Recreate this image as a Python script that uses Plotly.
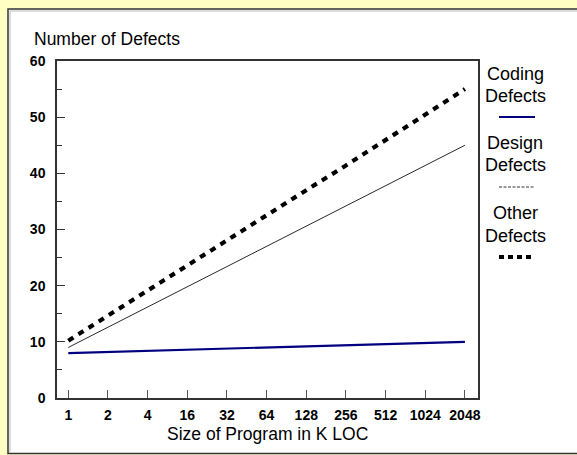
import plotly.graph_objects as go

sizes = ["1", "2", "4", "16", "32", "64", "128", "256", "512", "1024", "2048"]
coding_defects = [8.0, 8.2, 8.4, 8.6, 8.8, 9.0, 9.2, 9.4, 9.6, 9.8, 10.0]
design_defects = [9.0, 12.6, 16.2, 19.8, 23.4, 27.0, 30.6, 34.2, 37.8, 41.4, 45.0]
other_defects = [10.2, 14.7, 19.2, 23.6, 28.0, 32.5, 37.0, 41.4, 45.9, 50.4, 55.0]
y_ticks = [0, 10, 20, 30, 40, 50, 60]

W, H = 577, 455
L, R, T, B = 57, 99, 61, 57
PW, PH = W - L - R, H - T - B


def px(x):
    return (x - L) / PW


def py(y):
    return (H - B - y) / PH


FONT = "Liberation Sans, Arial, sans-serif"
BG = "#FFFFC4"
fig = go.Figure()
fig.add_trace(go.Scatter(x=sizes, y=coding_defects, mode="lines", name="Coding Defects",
                         line=dict(color="#000080", width=2.2)))
fig.add_trace(go.Scatter(x=sizes, y=design_defects, mode="lines", name="Design Defects",
                         line=dict(color="#111111", width=0.9)))
fig.add_trace(go.Scatter(x=sizes, y=other_defects, mode="lines", name="Other Defects",
                         line=dict(color="#000000", width=4.2, dash="6px,6px")))

shapes = [
    dict(type="rect", xref="paper", yref="paper", x0=px(8), x1=px(620), y0=py(453.5), y1=py(9),
         fillcolor="white", line=dict(color="#333333", width=1.5), layer="below"),
    dict(type="line", xref="paper", yref="paper", x0=px(10), x1=px(10), y0=py(452), y1=py(11),
         line=dict(color="#bbbbbb", width=1), layer="below"),
    dict(type="line", xref="paper", yref="paper", x0=px(10), x1=px(620), y0=py(11), y1=py(11),
         line=dict(color="#bbbbbb", width=1), layer="below"),
]

# legend (text above sample line)
legend_items = [
    ("Coding", "Defects", dict(color="#000080", width=2.2), 74, 96, 117),
    ("Design", "Defects", dict(color="#000000", width=0.8, dash="3px,1.5px"), 143, 165, 187),
    ("Other", "Defects", dict(color="#000000", width=4.2, dash="5px,4px"), 213, 236, 257),
]
annotations = []
for t1, t2, ln, y1, y2, yl in legend_items:
    for txt, yy in ((t1, y1), (t2, y2)):
        annotations.append(dict(text=txt, xref="paper", yref="paper", x=px(515), y=py(yy),
                                xanchor="center", yanchor="middle", showarrow=False,
                                font=dict(family=FONT, size=18, color="#000000")))
    shapes.append(dict(type="line", xref="paper", yref="paper", x0=px(499), x1=px(535),
                       y0=py(yl), y1=py(yl), line=ln))

annotations.append(dict(text="Number of Defects", xref="paper", yref="paper", x=px(32), y=py(38.5),
                        xanchor="left", yanchor="middle", showarrow=False,
                        font=dict(family=FONT, size=17.5, color="#000000")))
annotations.append(dict(text="Size of Program in K LOC", xref="paper", yref="paper", x=px(267.5), y=py(434),
                        xanchor="center", yanchor="middle", showarrow=False,
                        font=dict(family=FONT, size=17.5, color="#000000")))

fig.update_layout(
    width=W, height=H,
    margin=dict(l=L, r=R, t=T, b=B, pad=0),
    paper_bgcolor=BG,
    plot_bgcolor="white",
    showlegend=False,
    shapes=shapes,
    annotations=annotations,
    xaxis=dict(type="category", range=[-0.285, 10.33], showgrid=False, zeroline=False,
               showline=True, linecolor="#333333", linewidth=1.5, mirror=True,
               ticks="inside", ticklen=8, tickcolor="#555555", tickwidth=1,
               tickvals=sizes, ticktext=["<b>%s</b>" % s for s in sizes],
               ticklabelstandoff=3,
               tickfont=dict(family=FONT, size=14, color="#000000")),
    yaxis=dict(range=[0, 60], tickvals=y_ticks, ticktext=["<b>%d</b>" % v for v in y_ticks],
               showgrid=False, zeroline=False,
               showline=True, linecolor="#333333", linewidth=1.5, mirror=True,
               ticks="inside", ticklen=8, tickcolor="#333333", tickwidth=1,
               ticklabelstandoff=7,
               minor=dict(ticks="inside", ticklen=5, dtick=5, tickcolor="#333333", tickwidth=1),
               tickfont=dict(family=FONT, size=14, color="#000000")),
)

fig.write_html("out.html", config={"displayModeBar": False},
               post_script="document.body.style.margin='0';document.body.style.padding='0';"
                           "document.body.style.background='" + BG + "';"
                           "document.documentElement.style.overflow='hidden';")
